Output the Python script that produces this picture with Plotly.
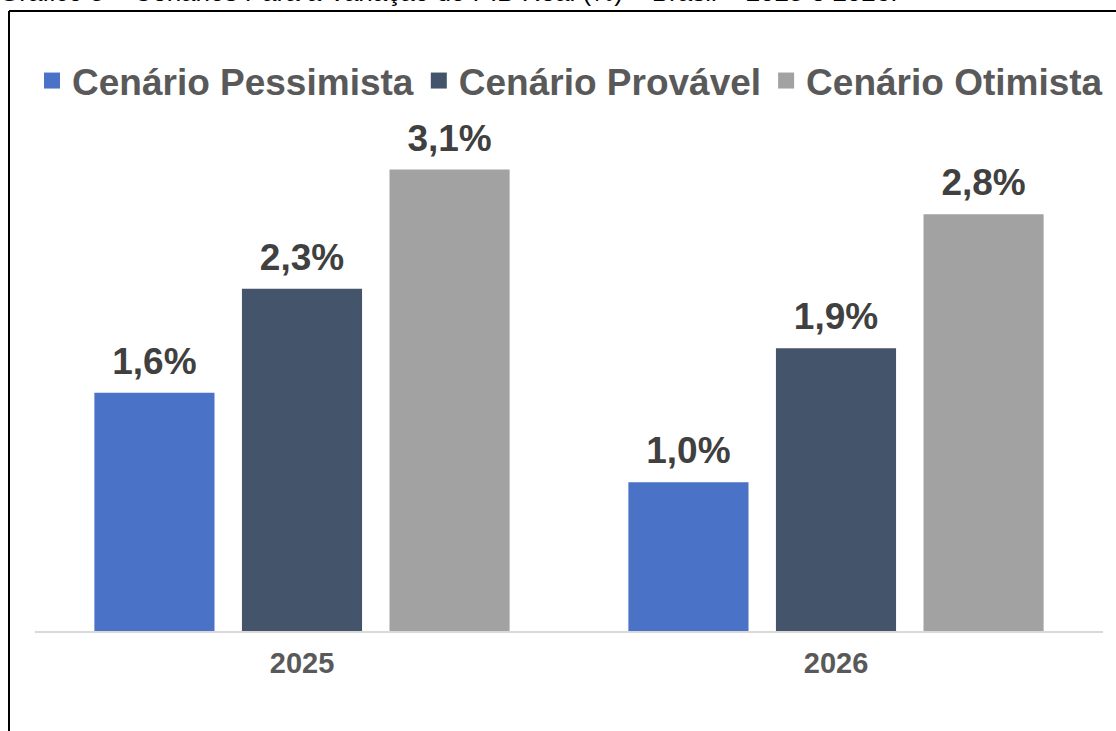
import plotly.graph_objects as go

categories = ["2025", "2026"]
series_names = ["Cenário Pessimista", "Cenário Provável", "Cenário Otimista"]
pessimista = [1.6, 1.0]
provavel = [2.3, 1.9]
otimista = [3.1, 2.8]
title_text = "Gráfico 5 – Cenários Para a Variação do PIB Real (%) – Brasil – 2025 e 2026."

colors = ["#4A72C6", "#44546A", "#A2A2A2"]
values = [pessimista, provavel, otimista]

W, H = 1116, 731
ML, MR, MT, MB = 35, 13, 110, 100
PW = W - ML - MR
PH = H - MT - MB

def px_x(x):
    return (x - ML) / PW

def px_y(y):
    return (H - MB - y) / PH

FONT = "Liberation Sans, Arial, sans-serif"

fig = go.Figure()
for name, vals, col in zip(series_names, values, colors):
    fig.add_trace(go.Bar(
        x=categories, y=vals, name=name, offsetgroup=name, showlegend=False,
        marker=dict(color=col, line=dict(width=0)),
    ))
for name, vals in zip(series_names, values):
    fig.add_trace(go.Scatter(
        x=categories, y=vals, name=name, offsetgroup=name, showlegend=False,
        mode="markers+text",
        marker=dict(size=14, opacity=0, color="white"),
        text=[f"{v:.1f}%".replace(".", ",") for v in vals],
        textposition="top center",
        textfont=dict(family=FONT, size=37, color="#404040", weight="bold"),
        cliponaxis=False, hoverinfo="skip",
    ))
# legend entries (square swatches)
for name, col in zip(series_names, colors):
    fig.add_trace(go.Scatter(
        x=[None], y=[None], name=name, offsetgroup=name, mode="markers",
        marker=dict(symbol="square", size=16, color=col),
    ))

fig.update_layout(
    width=W, height=H,
    margin=dict(l=ML, r=MR, t=MT, b=MB, pad=0),
    paper_bgcolor="white", plot_bgcolor="white",
    barmode="group", bargap=0.171, bargroupgap=0.186,
    scattermode="group", scattergap=0.171,
    showlegend=True,
    legend=dict(
        orientation="h", x=px_x(32), xanchor="left", y=px_y(50), yanchor="top",
        font=dict(family=FONT, size=37, color="#595959", weight="bold"),
        bgcolor="rgba(0,0,0,0)", itemclick=False, traceorder="normal",
    ),
    xaxis=dict(
        showline=True, linecolor="#D9D9D9", linewidth=2,
        showgrid=False, ticks="", ticklabelstandoff=5,
        tickfont=dict(family=FONT, size=29, color="#595959", weight="bold"),
    ),
    yaxis=dict(range=[0, 3.5], visible=False, showgrid=False, zeroline=False),
    font=dict(family=FONT),
)

# Outer frame of the original figure (cropped at right and bottom)
fig.add_shape(type="line", xref="paper", yref="paper",
              x0=px_x(9), x1=px_x(9), y0=px_y(11), y1=px_y(760),
              line=dict(color="black", width=2))
fig.add_shape(type="line", xref="paper", yref="paper",
              x0=px_x(9), x1=px_x(1130), y0=px_y(11), y1=px_y(11),
              line=dict(color="black", width=2))

# Title, cut off at the top of the image
fig.add_annotation(text=title_text, xref="paper", yref="paper",
                   x=px_x(-2), xanchor="left", y=px_y(8), yanchor="bottom",
                   showarrow=False, borderpad=0,
                   font=dict(family=FONT, size=26, color="black"))

fig.write_html("out.html", config={"displayModeBar": False},
               post_script="document.body.style.margin='0';document.body.style.overflow='hidden';")
